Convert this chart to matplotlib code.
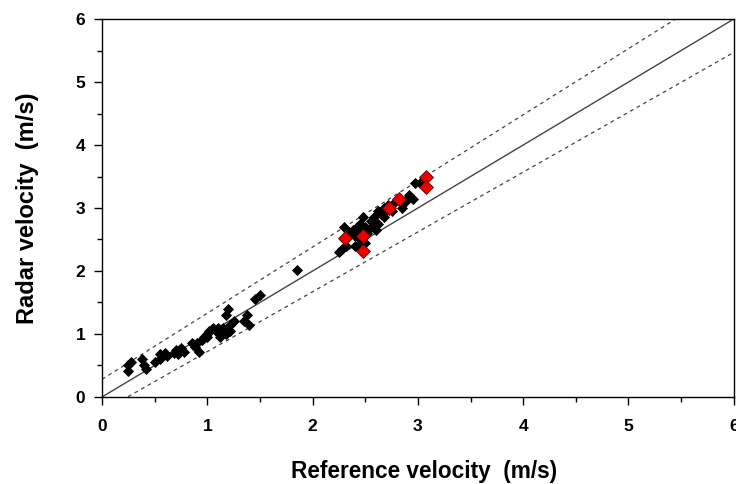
import matplotlib
matplotlib.use("Agg")
import matplotlib.pyplot as plt
import numpy as np

# Black (main) observations: reference velocity, radar velocity
ref_black = [0.25, 0.25, 0.28, 0.38, 0.40, 0.42, 0.50, 0.55, 0.55, 0.60, 0.62, 0.68, 0.70, 0.72,
             0.75, 0.78, 0.85, 0.88, 0.90, 0.92, 0.95, 0.97, 1.00, 1.00, 1.02, 1.05, 1.08, 1.10,
             1.12, 1.15, 1.18, 1.20, 1.22, 1.22, 1.25, 1.18, 1.12, 1.35, 1.38, 1.40, 1.45, 1.50,
             1.85,
             2.25, 2.28, 2.30, 2.32, 2.35, 2.38, 2.40, 2.42, 2.45, 2.45, 2.48, 2.50, 2.52, 2.55,
             2.58, 2.62, 2.65, 2.68, 2.70, 2.72, 2.75, 2.78, 2.82, 2.85, 2.90, 2.92, 2.95, 2.97,
             3.02, 2.50, 2.42, 2.60, 2.35, 2.30, 2.40, 2.45, 2.55, 2.62, 2.68, 2.88]
radar_black = [0.42, 0.50, 0.56, 0.60, 0.50, 0.45, 0.55, 0.60, 0.68, 0.70, 0.65, 0.70, 0.75, 0.68,
               0.78, 0.72, 0.85, 0.80, 0.85, 0.72, 0.90, 0.95, 0.95, 1.00, 1.05, 1.10, 1.05, 1.10,
               1.00, 1.10, 1.30, 1.40, 1.15, 1.05, 1.20, 1.00, 0.95, 1.20, 1.30, 1.15, 1.55, 1.62,
               2.02,
               2.30, 2.35, 2.50, 2.40, 2.55, 2.65, 2.40, 2.70, 2.60, 2.75, 2.85, 2.70, 2.60, 2.80,
               2.85, 2.75, 2.90, 3.00, 2.95, 3.05, 2.95, 3.10, 3.15, 3.00, 3.15, 3.20, 3.15, 3.40,
               3.40, 2.45, 2.40, 2.65, 2.62, 2.70, 2.55, 2.50, 2.70, 2.95, 2.85, 3.10]

# Red (highlighted) observations
ref_red = [2.31, 2.48, 2.48, 2.73, 2.82, 3.08, 3.08]
radar_red = [2.53, 2.56, 2.32, 3.00, 3.14, 3.50, 3.33]

xlim = (0, 6)
ylim = (0, 6)
ticks = [0, 1, 2, 3, 4, 5, 6]

fig = plt.figure(figsize=(7.36, 4.84), dpi=100)
ax = fig.add_axes([0.1386, 0.1798, 0.8584, 0.7809])

xx = np.array([0, 6.5])
ax.plot(xx, xx, color="#444444", lw=1.0, zorder=2)
ax.plot(xx, 1.05 * xx + 0.28, color="#444444", lw=0.9, ls=(0, (3, 3)), zorder=2)
ax.plot(xx, 0.95 * xx - 0.23, color="#444444", lw=0.9, ls=(0, (3, 3)), zorder=2)

ax.scatter(ref_black, radar_black, marker="D", s=32, color="black", zorder=3, linewidths=0)
ax.scatter(ref_red, radar_red, marker="D", s=50, color="#ee0000", edgecolors="#660000",
           linewidths=0.6, zorder=4)

ax.set_xlim(*xlim)
ax.set_ylim(*ylim)
ax.set_xticks(ticks)
ax.set_yticks(ticks)
ax.set_xticks(np.arange(0.5, 6, 1), minor=True)
ax.set_yticks(np.arange(0.5, 6, 1), minor=True)
ax.tick_params(which="major", direction="out", length=6, width=1)
ax.tick_params(which="minor", direction="out", length=3.5, width=1)
ax.tick_params(axis="x", which="major", pad=10)
ax.tick_params(axis="y", which="major", pad=6)

fp = dict(family="Liberation Sans", weight="bold")
for lab in ax.get_xticklabels() + ax.get_yticklabels():
    lab.set_fontproperties(matplotlib.font_manager.FontProperties(size=12.5, **fp))
ax.set_xlabel("Reference velocity  (m/s)", fontsize=16.3, **fp)
ax.set_ylabel("Radar velocity  (m/s)", fontsize=17, **fp)
ax.xaxis.set_label_coords(0.51, -0.168)
ax.yaxis.set_label_coords(-0.10, 0.5)
for s in ax.spines.values():
    s.set_linewidth(1.0)

fig.savefig("out.png", dpi=100)
